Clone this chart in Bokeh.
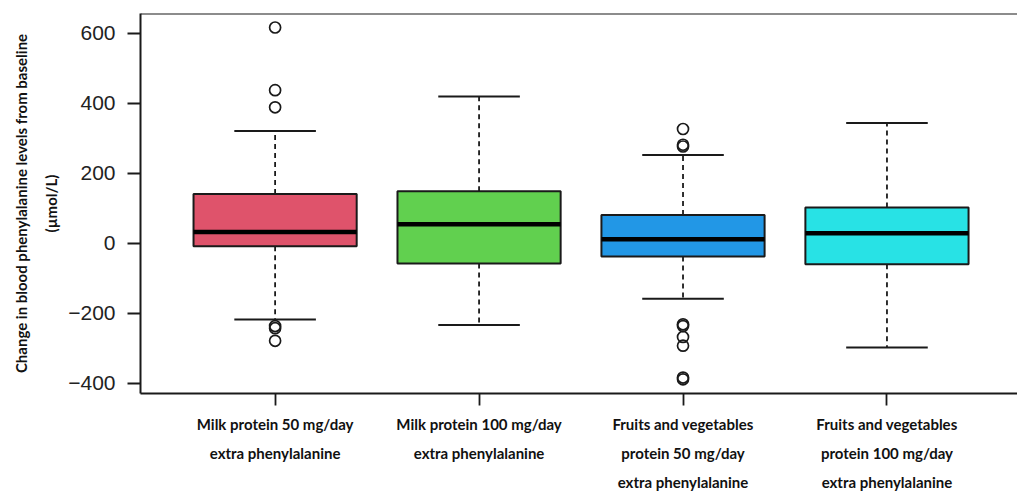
from bokeh.plotting import figure
from bokeh.models import FixedTicker, Span, Range1d
from bokeh.embed import file_html
from bokeh.resources import INLINE

# ---- data ----
categories = [
    "Milk protein 50 mg/day\nextra phenylalanine",
    "Milk protein 100 mg/day\nextra phenylalanine",
    "Fruits and vegetables\nprotein 50 mg/day\nextra phenylalanine",
    "Fruits and vegetables\nprotein 100 mg/day\nextra phenylalanine",
]
box_colors = ["#DF536B", "#61D04F", "#2297E6", "#28E2E5"]
q1 = [-8, -57, -37, -59]
median = [33, 55, 12, 29]
q3 = [141, 149, 81, 103]
lower_whisker = [-217, -233, -158, -297]
upper_whisker = [321, 420, 253, 344]
outliers = [
    [617, 438, 389, -236, -242, -278],
    [],
    [327, 282, 277, -231, -236, -267, -292, -383, -388],
    [],
]
y_ticks = [-400, -200, 0, 200, 400, 600]
y_tick_labels = ["\u2212400", "\u2212200", "0", "200", "400", "600"]
y_title = "Change in blood phenylalanine levels from baseline\n(\u00b5mol/L)"

xs = [i + 1 for i in range(len(categories))]
BOX_W = 0.8
CAP_W = 0.4
INK = "#1a1a1a"

p = figure(
    width=1017, height=494,
    x_range=Range1d(0.34, 4.64), y_range=Range1d(-428.6, 657),
    output_backend="svg", toolbar_location=None,
    min_border_left=140, min_border_right=0, min_border_top=13, min_border_bottom=101,
)
p.outline_line_color = None
p.xgrid.visible = False
p.ygrid.visible = False
p.background_fill_color = "white"
p.border_fill_color = "white"

# whiskers (dashed)
p.segment(x0=xs, y0=q3, x1=xs, y1=upper_whisker, line_color=INK, line_width=1.8, line_dash="5 4")
p.segment(x0=xs, y0=q1, x1=xs, y1=lower_whisker, line_color=INK, line_width=1.8, line_dash="5 4")
# caps
p.segment(x0=[x - CAP_W / 2 for x in xs], y0=upper_whisker, x1=[x + CAP_W / 2 for x in xs], y1=upper_whisker,
          line_color=INK, line_width=2)
p.segment(x0=[x - CAP_W / 2 for x in xs], y0=lower_whisker, x1=[x + CAP_W / 2 for x in xs], y1=lower_whisker,
          line_color=INK, line_width=2)
# boxes
p.vbar(x=xs, width=BOX_W, top=q3, bottom=q1, fill_color=box_colors, line_color=INK, line_width=2)
# medians
p.segment(x0=[x - BOX_W / 2 for x in xs], y0=median, x1=[x + BOX_W / 2 for x in xs], y1=median,
          line_color="black", line_width=4.5)
# outliers
ox, oy = [], []
for x, vals in zip(xs, outliers):
    for v in vals:
        ox.append(x)
        oy.append(v)
p.scatter(x=ox, y=oy, marker="circle", size=11, fill_color=None, line_color=INK, line_width=1.7)

# top frame line
p.add_layout(Span(location=657, dimension="width", line_color=INK, line_width=2))

# y axis
p.yaxis.ticker = FixedTicker(ticks=y_ticks)
p.yaxis.major_label_overrides = {t: l for t, l in zip(y_ticks, y_tick_labels)}
p.yaxis.major_tick_out = 13
p.yaxis.major_tick_in = 0
p.yaxis.minor_tick_line_color = None
p.yaxis.major_label_standoff = 12
p.yaxis.major_label_text_font = "Liberation Sans"
p.yaxis.major_label_text_font_size = "21px"
p.yaxis.major_label_text_color = "#222222"
p.yaxis.axis_line_color = INK
p.yaxis.axis_line_width = 2
p.yaxis.major_tick_line_color = INK
p.yaxis.major_tick_line_width = 1.8
p.yaxis.axis_label = y_title
p.yaxis.axis_label_text_font = "Lato"
p.yaxis.axis_label_text_font_size = "15px"
p.yaxis.axis_label_text_font_style = "bold"
p.yaxis.axis_label_text_color = "#111111"
p.yaxis.axis_label_text_line_height = 1.7
p.yaxis.axis_label_standoff = 5

# x axis
p.xaxis.ticker = FixedTicker(ticks=xs)
p.xaxis.major_label_overrides = {x: c for x, c in zip(xs, categories)}
p.xaxis.major_label_text_font = "Lato"
p.xaxis.major_label_text_font_size = "15px"
p.xaxis.major_label_text_font_style = "bold"
p.xaxis.major_label_text_color = "#111111"
p.xaxis.major_label_text_line_height = 1.625
p.xaxis.major_label_standoff = 9
p.xaxis.major_tick_out = 12
p.xaxis.major_tick_in = 0
p.xaxis.minor_tick_line_color = None
p.xaxis.axis_line_color = INK
p.xaxis.axis_line_width = 2
p.xaxis.major_tick_line_color = INK
p.xaxis.major_tick_line_width = 1.8

open("out.html", "w").write(file_html(p, INLINE))
